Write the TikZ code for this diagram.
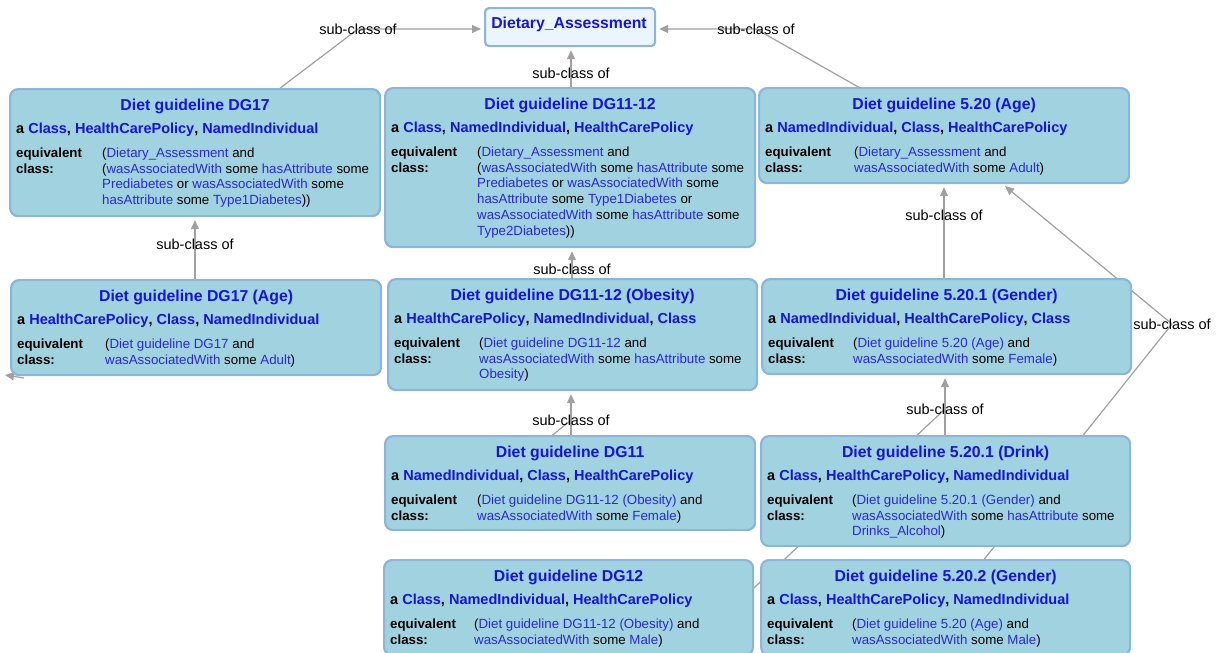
\documentclass[tikz,border=0pt]{standalone}
\usepackage{fontspec}
\setmainfont{Liberation Sans}
\usetikzlibrary{arrows.meta,calc,backgrounds}
\definecolor{boxfill}{HTML}{A1D2E0}
\definecolor{boxline}{HTML}{8DB4DA}
\definecolor{dafill}{HTML}{EBF5FE}
\definecolor{titleblue}{HTML}{1414E0}
\definecolor{linkblue}{HTML}{2828DC}
\definecolor{edgegray}{HTML}{A0A0A0}
\newcommand\lnk[1]{\textcolor{linkblue}{#1}}
\newcommand\tyl[1]{\textcolor{titleblue}{#1}}
\newcommand\gbox[9]{%
 \node[gboxst, minimum width=#4pt, minimum height=#5pt, anchor=north west] (#1) at (#2,#3) {};
 \node[titlest, anchor=base] (#1-t) at ($(#1.north)+(0,22)$) {#6};
 \node[typest, anchor=base west] (#1-a) at ($(#1.north west)+(7,45)$) {a #7};
 \node[eqst, anchor=north west] (#1-e) at ($(#1.north west)+(7,58)$) {\rule{0pt}{11pt}equivalent\\class:};
 \node[valst, anchor=north west] (#1-v) at ($(#1.north west)+(#8,58)$) {\rule{0pt}{11pt}#9};
}
\tikzset{
 gboxst/.style={draw=boxline, line width=2.2pt, fill=boxfill, rounded corners=8pt, inner sep=0pt},
 dast/.style={draw=boxline, line width=2.2pt, fill=dafill, rounded corners=4pt, inner sep=0pt},
 titlest/.style={text=titleblue, font=\fontsize{15.8}{19}\selectfont\bfseries, inner sep=0pt},
 typest/.style={font=\fontsize{14.5}{17}\selectfont\bfseries, inner sep=0pt},
 eqst/.style={font=\fontsize{13.3}{15.8}\selectfont\bfseries, inner sep=0pt, align=left},
 valst/.style={font=\fontsize{13.3}{15.8}\selectfont, inner sep=0pt, align=left},
 lbl/.style={font=\fontsize{14.5}{17}\selectfont, inner sep=0pt},
 edge/.style={draw=edgegray, line width=1.2pt, -{Triangle[length=9pt,width=8pt]}, shorten >=3pt},
 edgeplain/.style={draw=edgegray, line width=1.2pt}
}
\begin{document}
\begin{tikzpicture}[x=1pt,y=-1pt]
\useasboundingbox (0,0) rectangle (1218,653);
% top node
\node[dast, minimum width=170pt, minimum height=38pt, anchor=north west] (DA) at (484,7) {};
\node[titlest, anchor=base] (DA-t) at (569,28.5) {Dietary\_Assessment};
% boxes
\gbox{DG17}{9}{88}{370}{127}{Diet guideline DG17}{\tyl{Class}, \tyl{HealthCarePolicy}, \tyl{NamedIndividual}}{93}{(\lnk{Dietary\_Assessment} and\\(\lnk{wasAssociatedWith} some \lnk{hasAttribute} some\\\lnk{Prediabetes} or \lnk{wasAssociatedWith} some\\\lnk{hasAttribute} some \lnk{Type1Diabetes}))}
\gbox{DG1112}{384}{87}{370}{159}{Diet guideline DG11-12}{\tyl{Class}, \tyl{NamedIndividual}, \tyl{HealthCarePolicy}}{93}{(\lnk{Dietary\_Assessment} and\\(\lnk{wasAssociatedWith} some \lnk{hasAttribute} some\\\lnk{Prediabetes} or \lnk{wasAssociatedWith} some\\\lnk{hasAttribute} some \lnk{Type1Diabetes} or\\\lnk{wasAssociatedWith} some \lnk{hasAttribute} some\\\lnk{Type2Diabetes}))}
\gbox{Age}{758}{87}{370}{95}{Diet guideline 5.20 (Age)}{\tyl{NamedIndividual}, \tyl{Class}, \tyl{HealthCarePolicy}}{96}{(\lnk{Dietary\_Assessment} and\\\lnk{wasAssociatedWith} some \lnk{Adult})}
\gbox{DG17Age}{10}{279}{370}{95}{Diet guideline DG17 (Age)}{\tyl{HealthCarePolicy}, \tyl{Class}, \tyl{NamedIndividual}}{95}{(\lnk{Diet guideline DG17} and\\\lnk{wasAssociatedWith} some \lnk{Adult})}
\gbox{Obesity}{387}{278}{369}{111}{Diet guideline DG11-12 (Obesity)}{\tyl{HealthCarePolicy}, \tyl{NamedIndividual}, \tyl{Class}}{92}{(\lnk{Diet guideline DG11-12} and\\\lnk{wasAssociatedWith} some \lnk{hasAttribute} some\\\lnk{Obesity})}
\gbox{GA}{761}{278}{369}{95}{Diet guideline 5.20.1 (Gender)}{\tyl{NamedIndividual}, \tyl{HealthCarePolicy}, \tyl{Class}}{92}{(\lnk{Diet guideline 5.20 (Age)} and\\\lnk{wasAssociatedWith} some \lnk{Female})}
\gbox{DG11}{384}{435}{370}{94}{Diet guideline DG11}{\tyl{NamedIndividual}, \tyl{Class}, \tyl{HealthCarePolicy}}{93}{(\lnk{Diet guideline DG11-12 (Obesity)} and\\\lnk{wasAssociatedWith} some \lnk{Female})}
\gbox{Drink}{760}{435}{369}{110}{Diet guideline 5.20.1 (Drink)}{\tyl{Class}, \tyl{HealthCarePolicy}, \tyl{NamedIndividual}}{92}{(\lnk{Diet guideline 5.20.1 (Gender)} and\\\lnk{wasAssociatedWith} some \lnk{hasAttribute} some\\\lnk{Drinks\_Alcohol})}
\gbox{DG12}{383}{559}{369}{95}{Diet guideline DG12}{\tyl{Class}, \tyl{NamedIndividual}, \tyl{HealthCarePolicy}}{91}{(\lnk{Diet guideline DG11-12 (Obesity)} and\\\lnk{wasAssociatedWith} some \lnk{Male})}
\gbox{GB}{760}{559}{369}{95}{Diet guideline 5.20.2 (Gender)}{\tyl{Class}, \tyl{HealthCarePolicy}, \tyl{NamedIndividual}}{92}{(\lnk{Diet guideline 5.20 (Age)} and\\\lnk{wasAssociatedWith} some \lnk{Male})}
% labels
\node[lbl] (l1) at (358,29) {sub-class of};
\node[lbl] (l2) at (756,29) {sub-class of};
\node[lbl] (l3) at (571,73) {sub-class of};
\node[lbl] (l4) at (195,244) {sub-class of};
\node[lbl] (l5) at (572,269) {sub-class of};
\node[lbl] (l6) at (571,420) {sub-class of};
\node[lbl] (l7) at (944,215) {sub-class of};
\node[lbl] (l8) at (945,409) {sub-class of};
\node[lbl] (l9) at (1172,324) {sub-class of};
\coordinate (x1) at (677,660);
\coordinate (x2) at (510,470);
\coordinate (x3) at (24,378);
\coordinate (x4) at (5,375);
\begin{pgfonlayer}{background}
\draw[edge] (DG17.center) -- (l1.center) -- (DA.west |- l1.center);
\draw[edge] (Age.center) -- (l2.center) -- (DA.east |- l2.center);
\draw[edge] (l3.center |- DG1112.center) -- (l3.center |- DA.south);
\draw[edge] (l4.center |- DG17Age.center) -- (l4.center |- DG17.south);
\draw[edge] (l5.center |- Obesity.center) -- (l5.center |- DG1112.south);
\draw[edge] (l6.center |- DG11.center) -- (l6.center |- Obesity.south);
\draw[edge] (l7.center |- GA.center) -- (l7.center |- Age.south);
\draw[edge] (l8.center |- Drink.center) -- (l8.center |- GA.south);
\draw[edge] (GB.center) -- (l9.center) -- (Age);
\draw[edgeplain] (x1) -- (l8.center);
\draw[edgeplain] (x2) -- (l6.center);
\draw[edge, shorten >=0pt] (x3) -- (x4);
\end{pgfonlayer}
\end{tikzpicture}
\end{document}
